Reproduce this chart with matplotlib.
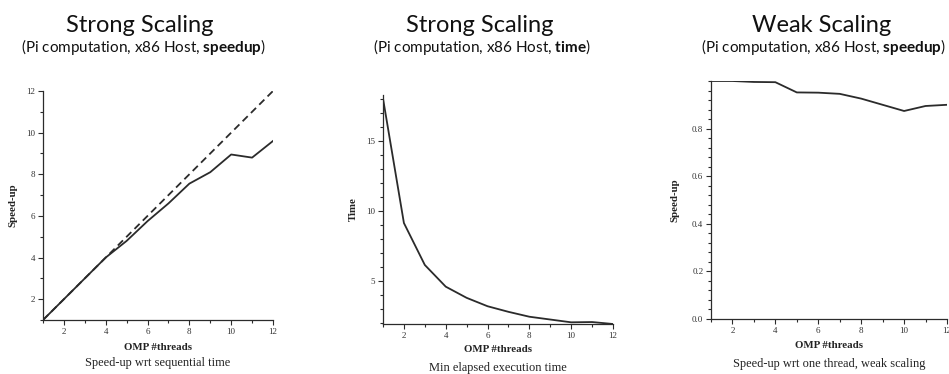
import matplotlib
matplotlib.use("Agg")
import matplotlib.pyplot as plt
from matplotlib.ticker import MultipleLocator, FixedLocator

plt.rcParams['mathtext.fontset'] = 'custom'
plt.rcParams['mathtext.rm'] = 'Lato'
plt.rcParams['mathtext.bf'] = 'Lato:bold'

# measurements
threads = [1, 2, 3, 4, 5, 6, 7, 8, 9, 10, 11, 12]
ideal_speedup = [1, 2, 3, 4, 5, 6, 7, 8, 9, 10, 11, 12]
strong_speedup = [1.0, 2.0, 3.0, 4.0, 4.8, 5.75, 6.6, 7.55, 8.1, 8.95, 8.8, 9.6]
strong_time = [18.05, 9.15, 6.15, 4.6, 3.8, 3.2, 2.8, 2.45, 2.25, 2.05, 2.07, 1.93]
weak_speedup = [1.0, 1.0, 0.996, 0.995, 0.952, 0.951, 0.946, 0.926, 0.9, 0.874, 0.895, 0.9]

titles = ["Strong Scaling", "Strong Scaling", "Weak Scaling"]
subtitles = [r"(Pi computation, x86 Host, $\mathbf{speedup}$)",
             r"(Pi computation, x86 Host, $\mathbf{time}$)",
             r"(Pi computation, x86 Host, $\mathbf{speedup}$)"]
ylabels = ["Speed-up", "Time", "Speed-up"]
captions = ["Speed-up wrt sequential time",
            "Min elapsed execution time",
            "Speed-up wrt one thread, weak scaling"]

W, H = 949, 374
LINE = "#2b2b2b"
SERIF = "Liberation Serif"

fig = plt.figure(figsize=(W / 100, H / 100), dpi=100)


def px_axes(left, right, top, bottom):
    return fig.add_axes([left / W, 1 - bottom / H, (right - left) / W, (bottom - top) / H])


def style(ax, ylab, cap, ylab_x, xlab_y, cap_y):
    for s in ["top", "right"]:
        ax.spines[s].set_visible(False)
    for s in ["left", "bottom"]:
        ax.spines[s].set_color(LINE)
        ax.spines[s].set_linewidth(0.9)
    ax.tick_params(which="major", direction="out", length=3.5, width=0.8, color=LINE,
                   labelsize=6.5, labelcolor="#333333", pad=2)
    ax.tick_params(which="minor", direction="out", length=2, width=0.8, color=LINE)
    for lab in ax.get_xticklabels() + ax.get_yticklabels():
        lab.set_family(SERIF)
    ax.xaxis.set_major_locator(FixedLocator([2, 4, 6, 8, 10, 12]))
    ax.xaxis.set_minor_locator(MultipleLocator(1))
    ax.set_xlim(1, 12)
    ax.set_xlabel("OMP #threads", family=SERIF, fontweight="bold", fontsize=7.8, color="#222222")
    ax.xaxis.label.set_va("center")
    ax.xaxis.set_label_coords(0.5, xlab_y)
    ax.set_ylabel(ylab, family=SERIF, fontweight="bold", fontsize=7.8, color="#222222")
    ax.yaxis.label.set_va("center")
    ax.yaxis.set_label_coords(ylab_x, 0.5)
    ax.text(0.5, cap_y, cap, transform=ax.transAxes, ha="center", va="center",
            family=SERIF, fontsize=8.9, color="#222222")


# strong scaling, speed-up
ax1 = px_axes(43, 273, 91, 320)
ax1.plot(threads, ideal_speedup, color=LINE, lw=1.3, ls=(0, (4, 2.5)))
ax1.plot(threads, strong_speedup, color=LINE, lw=1.3)
ax1.set_ylim(1, 12)
ax1.yaxis.set_major_locator(FixedLocator([2, 4, 6, 8, 10, 12]))
ax1.yaxis.set_minor_locator(MultipleLocator(1))
style(ax1, ylabels[0], captions[0], -0.13, -0.118, -0.188)

# strong scaling, elapsed time
ax2 = px_axes(383, 613, 95, 324)
ax2.plot(threads, strong_time, color=LINE, lw=1.3)
ax2.set_ylim(1.93, 18.3)
ax2.yaxis.set_major_locator(FixedLocator([5, 10, 15]))
ax2.yaxis.set_minor_locator(MultipleLocator(1))
style(ax2, ylabels[1], captions[1], -0.13, -0.113, -0.192)

# weak scaling, speed-up
ax3 = px_axes(711, 947, 81, 319)
ax3.plot(threads, weak_speedup, color=LINE, lw=1.3)
ax3.set_ylim(0, 1.0)
ax3.yaxis.set_major_locator(FixedLocator([0.0, 0.2, 0.4, 0.6, 0.8]))
ax3.yaxis.set_minor_locator(MultipleLocator(0.04))
style(ax3, ylabels[2], captions[2], -0.153, -0.113, -0.189)

# headings above each panel
for cx_t, cx_s, t, s in zip([140, 480, 822], [143, 482, 823], titles, subtitles):
    fig.text(cx_t / W, 1 - 32 / H, t, ha="center", va="baseline",
             family="Lato", fontsize=17, color="#111111")
    fig.text(cx_s / W, 1 - 52 / H, s, ha="center", va="baseline",
             family="Lato", fontsize=11, color="#111111")

fig.savefig("out.png", dpi=100)
